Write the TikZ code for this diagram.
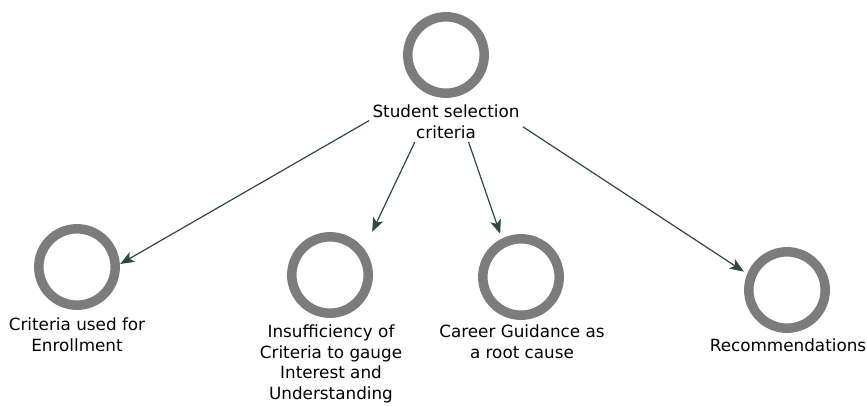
\documentclass[tikz,border=0pt]{standalone}
\usepackage{fontspec}
\setmainfont{DejaVu Sans}
\usetikzlibrary{fit,intersections,arrows.meta}
\definecolor{ringgray}{HTML}{7C7C7C}
\definecolor{linkgreen}{HTML}{2E4843}
\begin{document}
\begin{tikzpicture}[x=1pt,y=-1pt,
  ring/.style={rectangle, minimum size=86pt, inner sep=0pt,
    path picture={\draw[ringgray, line width=9.5pt]
      (path picture bounding box.center) circle (38.2pt);}},
  caption/.style={align=center, font=\fontsize{16.8}{20.5}\selectfont,
    inner sep=2pt, anchor=north, text=black},
  group/.style={rectangle, inner sep=1pt},
  link/.style={linkgreen, line width=1.2pt,
    -{Stealth[length=14pt,width=11pt,inset=3.5pt]}}]
\useasboundingbox (0,0) rectangle (867,405);

% root concept
\node[ring] (rr) at (446,55) {};
\node[caption] (rt) at (446,103) {Student selection\\criteria};
\node[group, fit=(rr)(rt)] (root) {};

% child concepts: ring + caption, grouped
\node[ring] (r1) at (77,267) {};
\node[caption] (t1) at (77,316) {Criteria used for\\Enrollment};
\node[group, fit=(r1)(t1)] (g1) {};

\node[ring] (r2) at (330,275) {};
\node[caption] (t2) at (331,323) {Insufficiency of\\Criteria to gauge\\Interest and\\Understanding};
\node[group, fit=(r2)(t2)] (g2) {};

\node[ring] (r3) at (521,277) {};
\node[caption] (t3) at (522,323) {Career Guidance as\\a root cause};
\node[group, fit=(r3)(t3)] (g3) {};

\node[ring] (r4) at (787,290) {};
\node[caption] (t4) at (788,337) {Recommendations};
\node[group, fit=(r4)(t4)] (g4) {};

% links: aimed at each group's centre, ending on the ring's box
\path[name path=rayA] (root.center) -- (g1.center);
\path[name path=boxA] (r1.south west) rectangle (r1.north east);
\draw[link, name intersections={of=rayA and boxA, by=e1}] (root) -- (e1);

\path[name path=rayB] (root.center) -- (g2.center);
\path[name path=boxB] (r2.south west) rectangle (r2.north east);
\draw[link, name intersections={of=rayB and boxB, by=e2}] (root) -- (e2);

\path[name path=rayC] (root.center) -- (g3.center);
\path[name path=boxC] (r3.south west) rectangle (r3.north east);
\draw[link, name intersections={of=rayC and boxC, by=e3}] (root) -- (e3);

\path[name path=rayD] (root.center) -- (g4.center);
\path[name path=boxD] (r4.south west) rectangle (r4.north east);
\draw[link, name intersections={of=rayD and boxD, by=e4}] (root) -- (e4);
\end{tikzpicture}
\end{document}
